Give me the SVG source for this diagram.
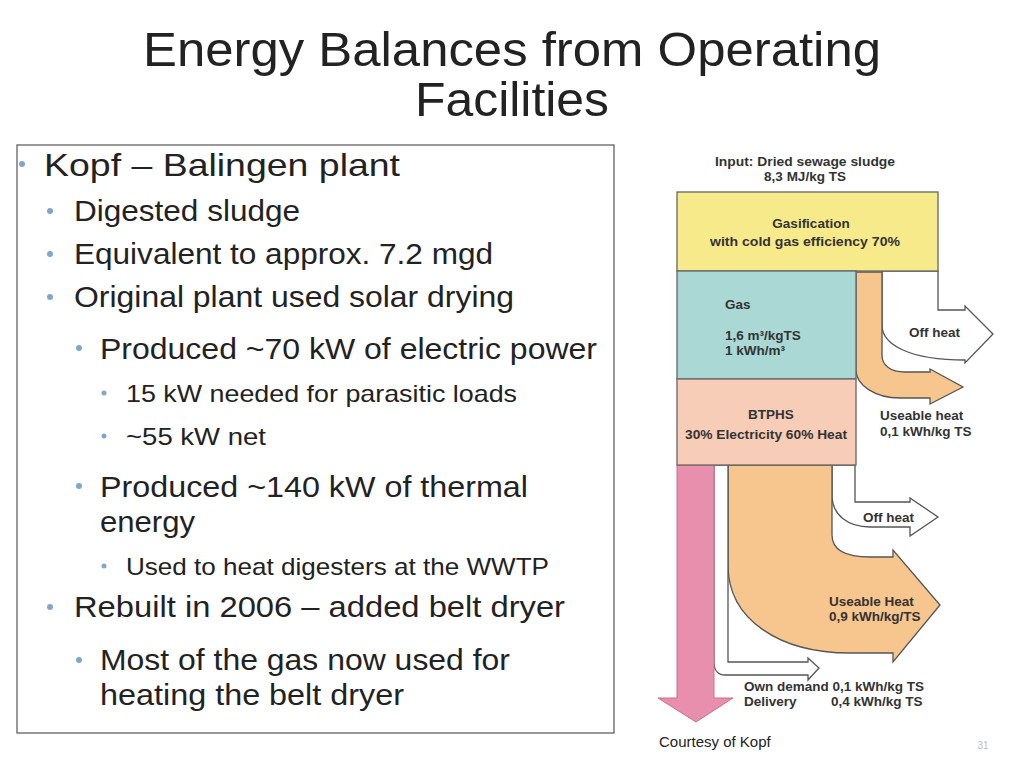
<svg xmlns="http://www.w3.org/2000/svg" width="1024" height="768" viewBox="0 0 1024 768">
<style>
.t{font-family:"Liberation Sans",Arial,sans-serif;fill:#222}
.b1{font-size:32px}.b2{font-size:29px}.b3{font-size:24px}
.d{font-family:"Liberation Sans",Arial,sans-serif;font-size:13.5px;font-weight:bold;fill:#333}
.bul{fill:#7fa7c9}
.o{stroke:#555;stroke-width:1.3}
</style>
<rect width="1024" height="768" fill="#fff"/>
<g id="title"><text class="t" x="143" y="66" font-size="48" textLength="738" lengthAdjust="spacingAndGlyphs">Energy Balances from Operating</text>
<text class="t" x="415" y="116" font-size="48" textLength="194" lengthAdjust="spacingAndGlyphs">Facilities</text></g>
<g id="textbox">
<rect x="17" y="145" width="597" height="588" fill="none" stroke="#555" stroke-width="1.2"/>
<circle class="bul" cx="22" cy="164" r="3"/><text class="t b1" x="44" y="176" textLength="356" lengthAdjust="spacingAndGlyphs">Kopf – Balingen plant</text>
<circle class="bul" cx="50" cy="211" r="3"/><text class="t b2" x="74" y="221" textLength="226" lengthAdjust="spacingAndGlyphs">Digested sludge</text>
<circle class="bul" cx="50" cy="254" r="3"/><text class="t b2" x="74" y="264" textLength="419" lengthAdjust="spacingAndGlyphs">Equivalent to approx. 7.2 mgd</text>
<circle class="bul" cx="50" cy="297" r="3"/><text class="t b2" x="74" y="307" textLength="440" lengthAdjust="spacingAndGlyphs">Original plant used solar drying</text>
<circle class="bul" cx="79" cy="348" r="3"/><text class="t b2" x="100" y="359" textLength="497" lengthAdjust="spacingAndGlyphs">Produced ~70 kW of electric power</text>
<circle class="bul" cx="104" cy="393" r="2.5"/><text class="t b3" x="126" y="402" textLength="391" lengthAdjust="spacingAndGlyphs">15 kW needed for parasitic loads</text>
<circle class="bul" cx="104" cy="436" r="2.5"/><text class="t b3" x="126" y="445" textLength="140" lengthAdjust="spacingAndGlyphs">~55 kW net</text>
<circle class="bul" cx="79" cy="486" r="3"/><text class="t b2" x="100" y="497" textLength="428" lengthAdjust="spacingAndGlyphs">Produced ~140 kW of thermal</text>
<text class="t b2" x="100" y="532" textLength="95" lengthAdjust="spacingAndGlyphs">energy</text>
<circle class="bul" cx="104" cy="566" r="2.5"/><text class="t b3" x="126" y="575" textLength="423" lengthAdjust="spacingAndGlyphs">Used to heat digesters at the WWTP</text>
<circle class="bul" cx="50" cy="607" r="3"/><text class="t b2" x="74" y="617" textLength="491" lengthAdjust="spacingAndGlyphs">Rebuilt in 2006 – added belt dryer</text>
<circle class="bul" cx="79" cy="660" r="3"/><text class="t b2" x="100" y="670" textLength="410" lengthAdjust="spacingAndGlyphs">Most of the gas now used for</text>
<text class="t b2" x="100" y="705" textLength="304" lengthAdjust="spacingAndGlyphs">heating the belt dryer</text>
</g>
<g id="connectors">
<path class="o" fill="#fff" d="M882 271 H938 V310 H965 V306 L993 334 L965 363 V360 C910 360 882 345 882 325 Z"/>
<path class="o" fill="#f7c58e" d="M856 272 H882 V355 C882 365 890 372 905 372 H930 V369 L963 387 L930 404 V398 H900 C875 398 856 385 856 370 Z"/>
<path class="o" fill="#fff" d="M832 465 H855 V502 H910 V498 L938 517 L910 536 V527 H870 C848 527 832 515 832 495 Z"/>
<path class="o" fill="#f7c58e" d="M728 465 H832 V535 C832 550 845 557 870 557 H893 V550 L940 605 L893 662 V653 H850 C780 653 728 620 728 565 Z"/>
<path class="o" fill="#fff" d="M714 465 H728 V662 H808 V658 L819 668 L808 680 V675 H725 C718 675 714 670 714 662 Z"/>
<path fill="#e98fae" stroke="#c57090" stroke-width="1" d="M677 465 H714 V698 H733 L696 722 L658 698 H677 Z"/>
</g>
<g id="gasification"><rect x="677" y="192" width="261" height="79" fill="#f7ea8a" stroke="#666" stroke-width="1.3"/>
<text class="d" x="811" y="228" text-anchor="middle">Gasification</text>
<text class="d" x="805" y="246" text-anchor="middle" textLength="190" lengthAdjust="spacingAndGlyphs">with cold gas efficiency 70%</text></g>
<g id="gas"><rect x="677" y="271" width="179" height="108" fill="#a9d8d5" stroke="#666" stroke-width="1.3"/>
<text class="d" x="725" y="309">Gas</text>
<text class="d" x="725" y="340">1,6 m³/kgTS</text>
<text class="d" x="725" y="355">1 kWh/m³</text></g>
<g id="btphs"><rect x="677" y="379" width="179" height="86" fill="#f8cdb8" stroke="#666" stroke-width="1.3"/>
<text class="d" x="771" y="419" text-anchor="middle">BTPHS</text>
<text class="d" x="766" y="439" text-anchor="middle" textLength="162" lengthAdjust="spacingAndGlyphs">30% Electricity 60% Heat</text></g>
<g id="labels">
<text class="d" x="805" y="166" text-anchor="middle" textLength="180" lengthAdjust="spacingAndGlyphs">Input: Dried sewage sludge</text>
<text class="d" x="805" y="181" text-anchor="middle">8,3 MJ/kg TS</text>
<text class="d" x="909" y="337">Off heat</text>
<text class="d" x="880" y="420">Useable heat</text>
<text class="d" x="880" y="436">0,1 kWh/kg TS</text>
<text class="d" x="863" y="522">Off heat</text>
<text class="d" x="829" y="606">Useable Heat</text>
<text class="d" x="829" y="621">0,9 kWh/kg/TS</text>
<text class="d" x="744" y="691" textLength="180" lengthAdjust="spacingAndGlyphs">Own demand 0,1 kWh/kg TS</text>
<text class="d" x="744" y="706">Delivery</text><text class="d" x="831" y="706">0,4 kWh/kg TS</text>
<text class="t" x="659" y="747" font-size="15">Courtesy of Kopf</text>
<text x="983" y="749" font-family="Liberation Sans,sans-serif" font-size="10" fill="#bbb" text-anchor="middle">31</text>
</g>
</svg>
